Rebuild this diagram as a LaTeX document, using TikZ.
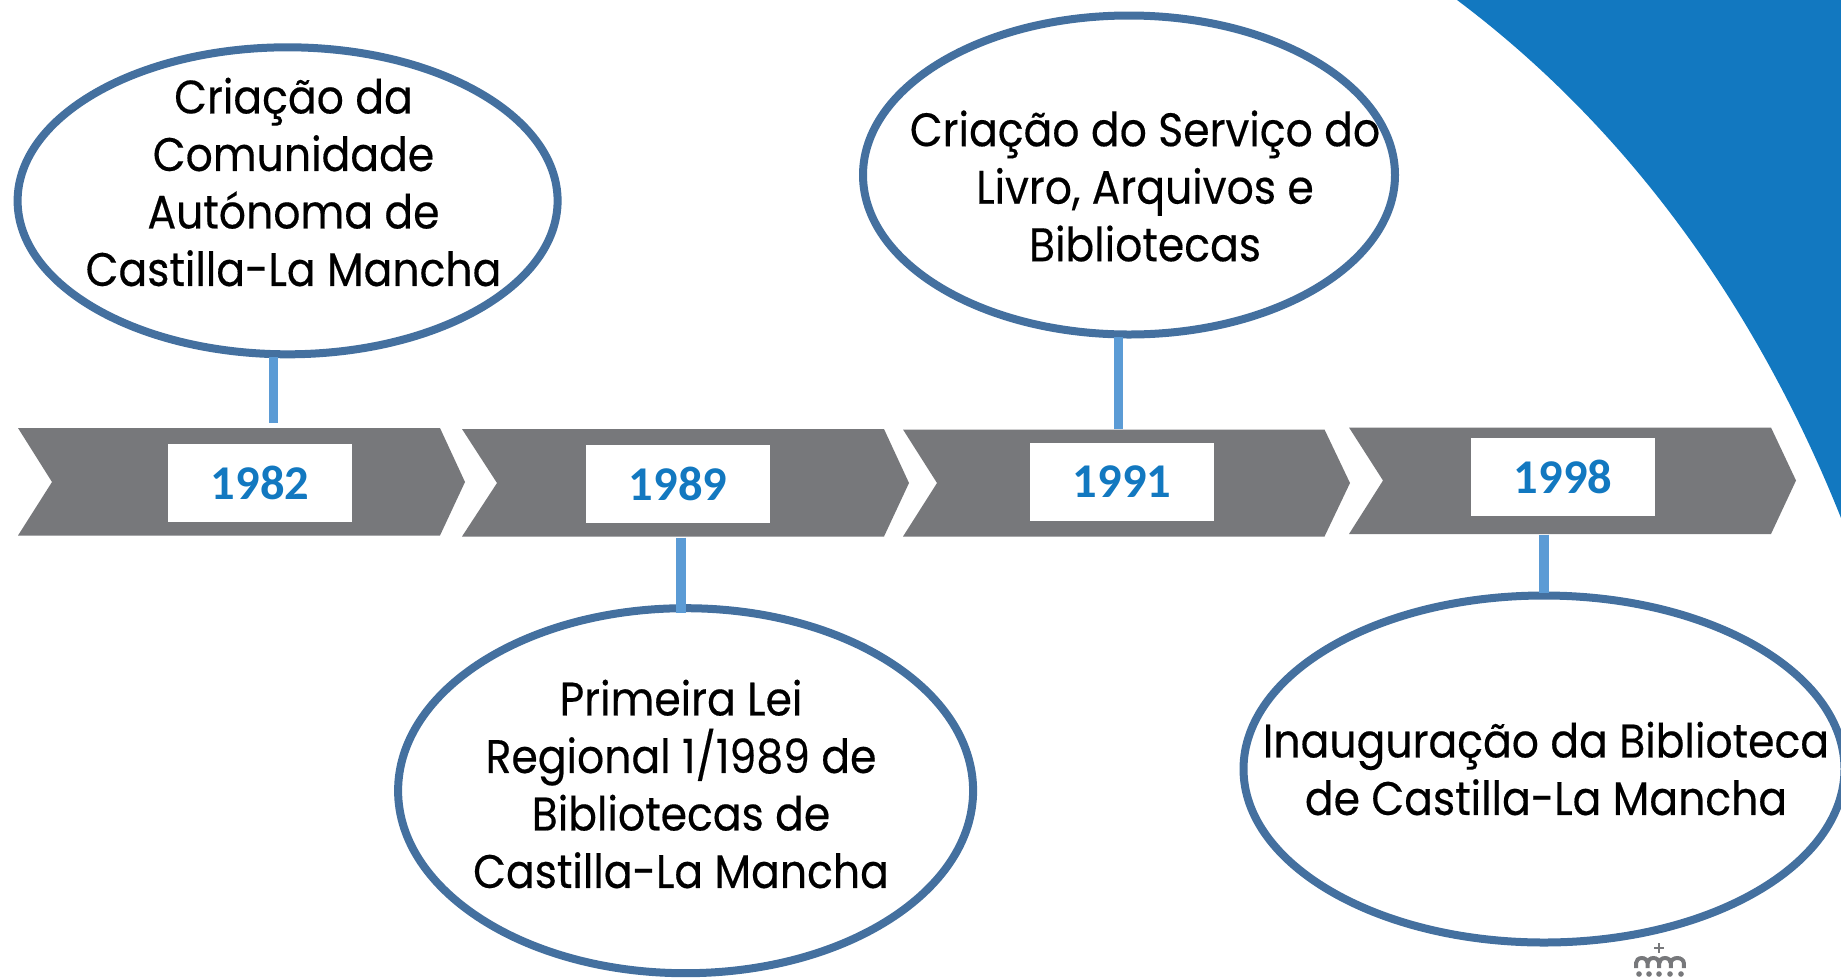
\documentclass[tikz,border=0pt]{standalone}
\usepackage{fontspec}
\setmainfont[FakeStretch=0.905,FakeBold=0.35]{Poppins}
\newfontfamily\yearfont{Carlito}
\usetikzlibrary{shapes.geometric}
\definecolor{skyband}{HTML}{1278C0}
\definecolor{ringblue}{HTML}{44709F}
\definecolor{stemblue}{HTML}{5B9BD5}
\definecolor{bargray}{HTML}{77787B}
\tikzset{
  x=1pt,y=-1pt,
  ring/.style={draw=ringblue,line width=8pt,fill=white,ellipse,inner sep=0pt,outer sep=0pt},
  chev/.style={fill=bargray,draw=none},
  stem/.style={draw=stemblue,line width=9.5pt},
  yearbox/.style={fill=white,draw=none,inner sep=0pt,outer sep=0pt,minimum width=184pt,minimum height=78pt,
    font=\yearfont\bfseries\fontsize{48.5}{50}\selectfont,text=skyband},
  label/.style={align=center,inner sep=0pt,text=black,font=\fontsize{47}{57.5}\selectfont},
  crown/.style={draw=bargray,line width=4pt,fill=none},
  dot/.style={circle,fill=bargray,inner sep=0pt,minimum size=5.6pt}
}
\begin{document}
\begin{tikzpicture}
\useasboundingbox (0,0) rectangle (1841,978);
\clip (0,0) rectangle (1841,978);
% corner band
\fill[skyband] (1457,0) .. controls (1637,135) and (1762,320) .. (1841,518) -- (1841,0) -- cycle;
% ellipses
\node[ring,minimum width=540pt,minimum height=307pt] (e1) at (287.6,200.8) {};
\node[ring,minimum width=575pt,minimum height=365pt] (e2) at (685.6,790.7) {};
\node[ring,minimum width=532pt,minimum height=319pt] (e3) at (1129,175) {};
\node[ring,minimum width=601pt,minimum height=347pt] (e4) at (1544,769) {};
% chevrons
\fill[chev] (18,428) -- (440,428) -- (465,482) -- (440,535.5) -- (18,535.5) -- (52,482) -- cycle;
\fill[chev] (462,429) -- (884,429) -- (909,483) -- (884,536.5) -- (462,536.5) -- (497,483) -- cycle;
\fill[chev] (903,429.5) -- (1324.5,429.5) -- (1350,483) -- (1324.5,536.5) -- (903,536.5) -- (937,483) -- cycle;
\fill[chev] (1349,427.5) -- (1771,427.5) -- (1796,480.5) -- (1771,534) -- (1349,534) -- (1383,480.5) -- cycle;
% connector ends
\coordinate (c1a) at (273.5,357);
\coordinate (c1b) at (273.5,422.7);
\coordinate (c2a) at (681,537.7);
\coordinate (c2b) at (681,613);
\coordinate (c3a) at (1118.5,337);
\coordinate (c3b) at (1118.5,428.5);
\coordinate (c4a) at (1544,534.6);
\coordinate (c4b) at (1544,593);
\draw[stem] (c1a) -- (c1b);
\draw[stem] (c2a) -- (c2b);
\draw[stem] (c3a) -- (c3b);
\draw[stem] (c4a) -- (c4b);
% year boxes
\node[yearbox] (y1) at (260,483) {1982};
\node[yearbox] (y2) at (678,483.5) {1989};
\node[yearbox] (y3) at (1122,481.5) {1991};
\node[yearbox] (y4) at (1563,477) {1998};
% texts
\node[label] (t1) at (293.5,182) {Criação da\\Comunidade\\Autónoma de\\Castilla-La Mancha};
\node[label] (t2) at (681,784) {Primeira Lei\\Regional 1/1989 de\\Bibliotecas de\\Castilla-La Mancha};
\node[label] (t3) at (1145,186) {Criação do Serviço do\\Livro, Arquivos e\\Bibliotecas};
\node[label] (t4) at (1546,768.5) {Inauguração da Biblioteca\\de Castilla-La Mancha};
% crown mark
\draw[crown,line width=2.8pt] (1659,943) -- (1659,953) (1654,948) -- (1664,948);
\draw[crown] (1636,968) -- (1636,963) arc[start angle=180,end angle=0,x radius=5.8,y radius=-5] -- (1647.6,968);
\draw[crown] (1647.6,963) arc[start angle=180,end angle=0,x radius=5.8,y radius=-5] -- (1659.2,968);
\draw[crown] (1659.2,963) arc[start angle=180,end angle=0,x radius=5.8,y radius=-5] -- (1670.8,968);
\draw[crown] (1670.8,963) arc[start angle=180,end angle=0,x radius=6.5,y radius=-5] -- (1683.8,968);
\node[dot] (d1) at (1639,974) {};
\node[dot] (d2) at (1649,974) {};
\node[dot] (d3) at (1659,974) {};
\node[dot] (d4) at (1670,974) {};
\node[dot] (d5) at (1681,974) {};
\end{tikzpicture}
\end{document}
